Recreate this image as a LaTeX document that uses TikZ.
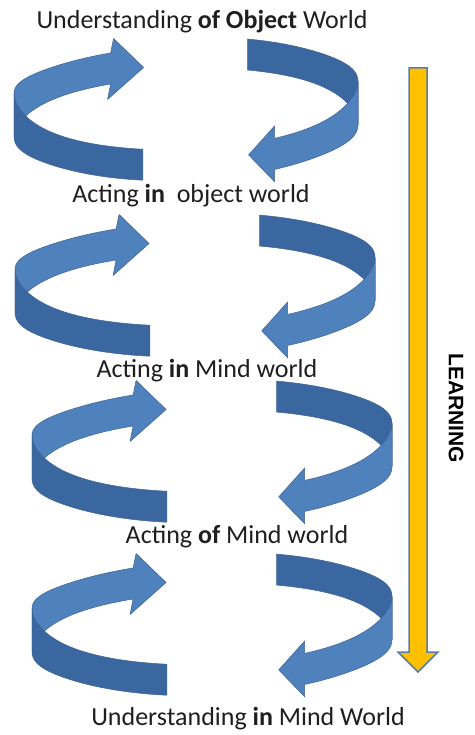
\documentclass[tikz,border=0pt]{standalone}
\usepackage{fontspec}
\setmainfont{Carlito}
\newfontfamily\learnfont{Liberation Sans}
\definecolor{ringlight}{HTML}{4F81BD}
\definecolor{ringdark}{HTML}{3B67A0}
\definecolor{ringedge}{HTML}{3E6394}
\definecolor{learngold}{HTML}{FFC000}
\definecolor{learnedge}{HTML}{5B7DA6}
\definecolor{textgray}{HTML}{1F1F1F}
\begin{document}
\begin{tikzpicture}[
    x=1pt, y=-1pt,
    declare function={ymid(\a,\r)=\r*sin(\a)-6*cos(\a); hw(\a)=15.5+6*(cos(\a)*cos(\a))^4;},
    ribbon/.style={draw=ringedge, line width=0.5pt, line join=round},
    band/.style={variable=\t, samples=36, smooth},
    worldtext/.style={font=\fontsize{26}{30}\selectfont, anchor=base, text=textgray, inner sep=0pt},
    learnarrow/.style={fill=learngold, draw=learnedge, line width=1.5pt, line join=miter},
    ring/.pic={
      % left arrow: back half with its head, then front half on top
      \path[ribbon, fill=ringlight] plot[band, domain=180:244] ({#1*cos(\t)}, {ymid(\t,48)-hw(\t)})
        -- ++(3,-14.5) -- ++(30,29) -- ++(-36,32)
        -- plot[band, domain=244:180] ({#1*cos(\t)}, {ymid(\t,48)+hw(\t)}) -- cycle;
      \path[ribbon, fill=ringdark] plot[band, domain=104.5:180] ({#1*cos(\t)}, {ymid(\t,56)-hw(\t)})
        -- plot[band, domain=180:104.5] ({#1*cos(\t)}, {ymid(\t,56)+hw(\t)}) -- cycle;
      % right arrow: back half, then front half with its head
      \path[ribbon, fill=ringdark] plot[band, domain=291:360] ({#1*cos(\t)}, {ymid(\t,56)-hw(\t)})
        -- plot[band, domain=360:291] ({#1*cos(\t)}, {ymid(\t,56)+hw(\t)}) -- cycle;
      \path[ribbon, fill=ringlight] plot[band, domain=360:419] ({#1*cos(\t)}, {ymid(\t,56)-hw(\t)})
        -- ++(0,-12.5) -- ++(-26,29) -- ++(26,27)
        -- plot[band, domain=419:360] ({#1*cos(\t)}, {ymid(\t,56)+hw(\t)}) -- cycle;
    }
]

% page
\path[fill=white] (0,0) rectangle (474,735);

% === Rings ===
\pic (ringObject) at (186,109) {ring=172};
\pic (ringActIn) at (195,285) {ring=180};
\pic (ringActOf) at (212,451) {ring=180};
\pic (ringMind) at (212,624) {ring=180};

% === Learning arrow ===
\coordinate (learnTop) at (418,68);
\coordinate (learnTip) at (418,672);
\draw[learnarrow] (learnTop) ++(-9,0) -- ++(18,0) -- ++(0,584) -- ++(11,0) -- (learnTip) -- ++(-20,-20) -- ++(11,0) -- cycle;
\node[font=\learnfont\bfseries\fontsize{21}{24}\selectfont, rotate=-90, inner sep=0pt] (learning) at (456,408) {LEARNING};

% === Labels ===
\node[worldtext] (objectUnderstanding) at (202,29) {Understanding \textbf{of Object} World};
\node[worldtext] (objectActing) at (191,203) {Acting \textbf{in}\ \ object world};
\node[worldtext] (mindActingIn) at (207,377) {Acting \textbf{in} Mind world};
\node[worldtext] (mindActingOf) at (237,543) {Acting \textbf{of} Mind world};
\node[worldtext] (mindUnderstanding) at (248,725) {Understanding \textbf{in} Mind World};

\end{tikzpicture}
\end{document}
